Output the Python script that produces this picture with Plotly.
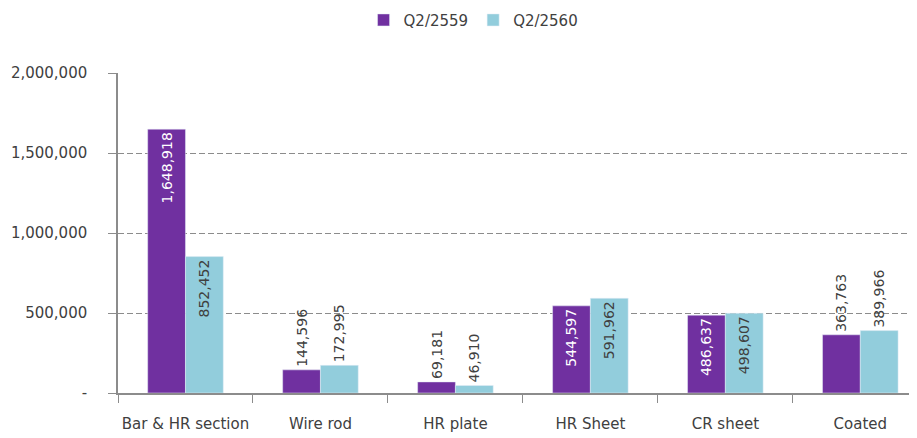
import plotly.graph_objects as go

categories = ["Bar & HR section", "Wire rod", "HR plate", "HR Sheet", "CR sheet", "Coated"]
q2_2559 = [1648918, 144596, 69181, 544597, 486637, 363763]
q2_2560 = [852452, 172995, 46910, 591962, 498607, 389966]
text_pos = ["inside", "outside", "outside", "inside", "inside", "outside"]
y_tickvals = [0, 500000, 1000000, 1500000, 2000000]
y_ticktext = ["-", "500,000", "1,000,000", "1,500,000", "2,000,000"]

FONT = "DejaVu Sans"
DARK = "#404040"

def fmt(v):
    return f"{v:,}"

fig = go.Figure()
fig.add_trace(go.Bar(
    name="Q2/2559", x=categories, y=q2_2559,
    marker=dict(color="#7030A0"),
    text=[fmt(v) for v in q2_2559], textposition=text_pos, textangle=-90,
    insidetextanchor="end",
    insidetextfont=dict(color="white", size=14, family=FONT),
    outsidetextfont=dict(color=DARK, size=14, family=FONT),
    constraintext="none", cliponaxis=False,
))
fig.add_trace(go.Bar(
    name="Q2/2560", x=categories, y=q2_2560,
    marker=dict(color="#92CDDC"),
    text=[fmt(v) for v in q2_2560], textposition=text_pos, textangle=-90,
    insidetextanchor="end",
    insidetextfont=dict(color=DARK, size=14, family=FONT),
    outsidetextfont=dict(color=DARK, size=14, family=FONT),
    constraintext="none", cliponaxis=False,
))

fig.update_layout(
    width=909, height=430,
    margin=dict(l=110, r=0, t=65, b=45, autoexpand=False),
    paper_bgcolor="white", plot_bgcolor="white",
    barmode="group", bargap=0.44, bargroupgap=0,
    font=dict(family=FONT, size=14, color=DARK),
    legend=dict(orientation="h", x=0.445, xanchor="center", y=1.165, yanchor="middle",
                font=dict(size=15, color=DARK)),
    uniformtext=dict(mode=False),
)
fig.update_xaxes(
    range=[-0.5, 5.42], showline=True, linecolor="#8c8c8c", linewidth=1.5,
    ticks="outside", tickson="boundaries", ticklen=8, tickcolor="#8c8c8c",
    showgrid=False, tickfont=dict(size=15, color=DARK), automargin=False,
    ticklabelstandoff=16, tickangle=0,
)
fig.update_yaxes(
    range=[0, 2000000], tickvals=y_tickvals, ticktext=y_ticktext,
    showline=True, linecolor="#8c8c8c", linewidth=1.5,
    ticks="outside", ticklen=8, tickcolor="#8c8c8c",
    showgrid=True, gridcolor="#8c8c8c", griddash="6px,3px", gridwidth=1,
    zeroline=False, tickfont=dict(size=15, color=DARK), automargin=False,
    ticklabelstandoff=18,
)

fig.write_html("out.html")
